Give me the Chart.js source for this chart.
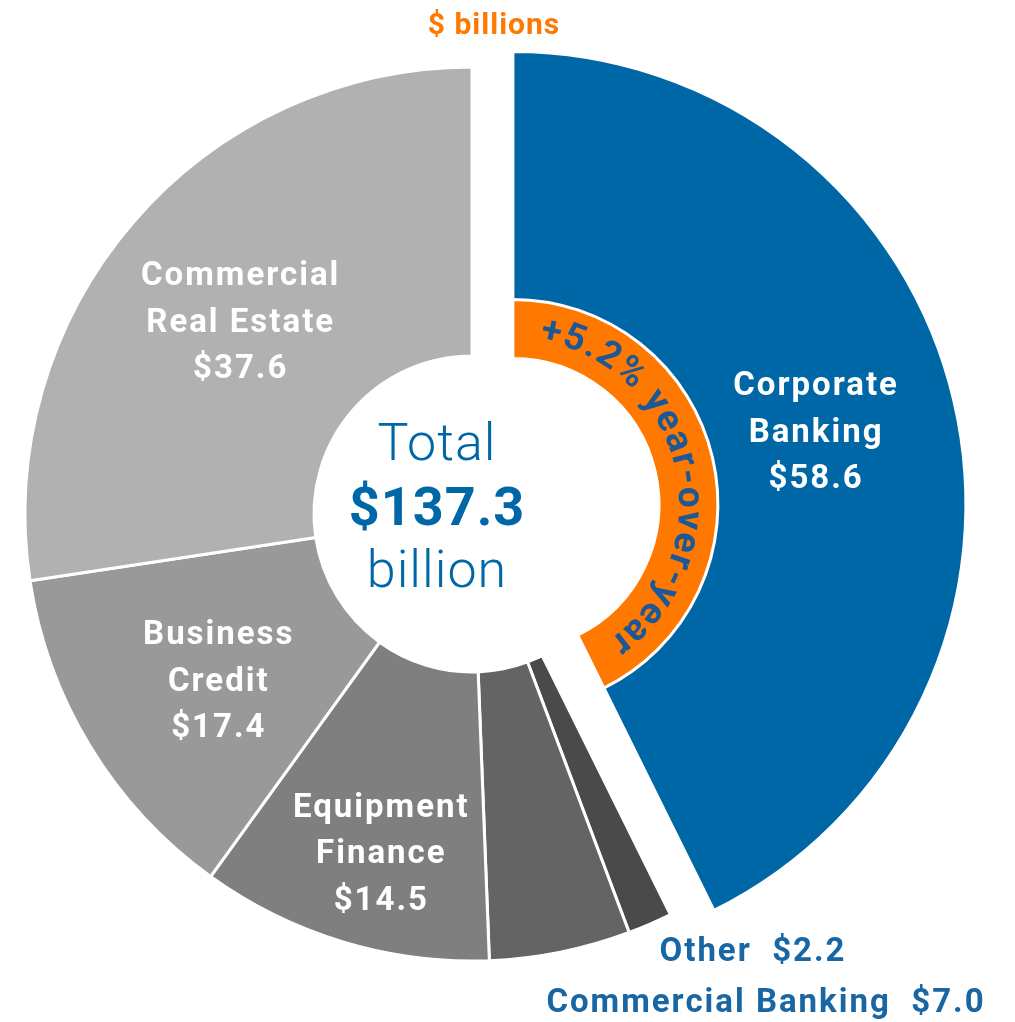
<!DOCTYPE html>
<html>
<head>
<meta charset="utf-8">
<script src="https://cdn.jsdelivr.net/npm/chart.js@4.4.1/dist/chart.umd.min.js"></script>
<style>
  html, body { margin: 0; padding: 0; background: #fff; overflow: hidden; }
  #wrap { position: relative; width: 1015px; height: 1022px; }
  #wrap canvas { position: absolute; left: 0; top: 0; }
</style>
</head>
<body>
<div id="wrap">
  <canvas id="base" width="1015" height="1022"></canvas>
  <canvas id="focus" width="1015" height="1022"></canvas>
</div>
<script>
// ---- data ----
const CATEGORIES = [
  ["Corporate", "Banking"],
  ["Other"],
  ["Commercial Banking"],
  ["Equipment", "Finance"],
  ["Business", "Credit"],
  ["Commercial", "Real Estate"],
];
const VALUES = [58.6, 2.2, 7.0, 14.5, 17.4, 37.6];
const UNIT = "$ billions";
const TOTAL_WORDS = ["Total", "billion"];
const GROWTH = "+5.2% year-over-year";
const HIGHLIGHT = 0; // slice pulled out, with the growth ring

// ---- look ----
const W = 1015, H = 1022;
const FONT = "Roboto, 'DejaVu Sans', sans-serif";
const BLUE = "#0067a6";
const ORANGE = "#ff7800";
const RING_TEXT = "#1a5898";
const LABEL_BLUE = "#1866a3";
const FILL = [BLUE, "#4a4a4a", "#646464", "#7f7f7f", "#999999", "#b1b1b1"];
const CENTER = { x: 472, y: 514 };
const R_OUT = 447, R_IN = 158;       // main ring
const R_FOCUS = 453;                 // pulled-out slice is drawn a bit larger
const RING_OUT = 205, RING_IN = 146; // orange growth ring
const EXPLODE = 42;
// where each slice label goes: fraction across the ring, or a fixed spot outside
const LABEL_STYLE = [
  { frac: 0.52 },
  { at: [753, 953] },
  { at: [766, 1004] },
  { frac: 0.66, dx: 10, dy: 7 },
  { frac: 0.5, dx: 5, dy: 11 },
  { frac: 0.5, dx: -2, dy: 7 },
];

const total = VALUES.reduce((a, b) => a + b, 0);
const fmt = (v) => "$" + v.toFixed(1);
function midAngle(i) {
  const before = VALUES.slice(0, i).reduce((a, b) => a + b, 0);
  return -Math.PI / 2 + ((before + VALUES[i] / 2) / total) * 2 * Math.PI;
}
const mHi = midAngle(HIGHLIGHT);
const CENTER_B = { x: CENTER.x + EXPLODE * Math.cos(mHi), y: CENTER.y + EXPLODE * Math.sin(mHi) };

// padding that puts the doughnut centre where we want it
function padFor(c) {
  return {
    left: Math.max(0, 2 * c.x - W), right: Math.max(0, W - 2 * c.x),
    top: Math.max(0, 2 * c.y - H), bottom: Math.max(0, H - 2 * c.y),
  };
}
// radius/cutout for ring k of n equal-weight datasets so it spans [inner, outer]
function ring(outer, inner, k, n) {
  const L = outer - inner, R = outer + L * k, I = R - n * L;
  return { radius: R, cutout: (I / R) * 100 + "%" };
}

function drawBlock(ctx, lines, x, y, lh) {
  lines.forEach((t, j) => ctx.fillText(t, x, y + (j - (lines.length - 1) / 2) * lh));
}

function labelAt(arc, st) {
  const mid = (arc.startAngle + arc.endAngle) / 2;
  const r = arc.innerRadius + st.frac * (arc.outerRadius - arc.innerRadius);
  return [arc.x + r * Math.cos(mid) + (st.dx || 0), arc.y + r * Math.sin(mid) + (st.dy || 0)];
}

const baseLabels = {
  id: "baseLabels",
  afterDatasetsDraw(chart) {
    const ctx = chart.ctx;
    const arcs = chart.getDatasetMeta(0).data;
    ctx.save();
    ctx.textAlign = "center";
    ctx.textBaseline = "middle";
    arcs.forEach((arc, i) => {
      if (i === HIGHLIGHT) return;
      const st = LABEL_STYLE[i];
      if (st.at) {
        ctx.fillStyle = LABEL_BLUE;
        ctx.letterSpacing = "2px";
        ctx.font = "bold 33px " + FONT;
        ctx.fillText(CATEGORIES[i].join(" ") + "  " + fmt(VALUES[i]), st.at[0], st.at[1]);
      } else {
        const [x, y] = labelAt(arc, st);
        ctx.fillStyle = "#fff";
        ctx.letterSpacing = "2px";
        ctx.font = "bold 33px " + FONT;
        drawBlock(ctx, [...CATEGORIES[i], fmt(VALUES[i])], x, y, 46.5);
      }
    });
    // centre total
    const cx = arcs[0].x - 35, cy = arcs[0].y;
    ctx.fillStyle = BLUE;
    ctx.letterSpacing = "1px";
    ctx.textBaseline = "alphabetic";
    ctx.font = "300 52px " + FONT;
    ctx.fillText(TOTAL_WORDS[0], cx, cy - 54);
    ctx.fillText(TOTAL_WORDS[1], cx, cy + 73);
    ctx.font = "bold 54px " + FONT;
    ctx.fillText(fmt(total), cx, cy + 11);
    // unit
    ctx.fillStyle = ORANGE;
    ctx.font = "bold 30px " + FONT;
    ctx.fillText(UNIT, 494, 34);
    ctx.restore();
  },
};

const focusLabels = {
  id: "focusLabels",
  afterDatasetsDraw(chart) {
    const ctx = chart.ctx;
    const arc = chart.getDatasetMeta(1).data[HIGHLIGHT];
    ctx.save();
    ctx.textAlign = "center";
    ctx.textBaseline = "middle";
    ctx.fillStyle = "#fff";
    ctx.letterSpacing = "2px";
    ctx.font = "bold 33px " + FONT;
    const [x, y] = labelAt(arc, LABEL_STYLE[HIGHLIGHT]);
    drawBlock(ctx, [...CATEGORIES[HIGHLIGHT], fmt(VALUES[HIGHLIGHT])], x, y, 46.5);

    // growth text bent along the orange ring
    const r = (RING_OUT + RING_IN) / 2;
    const gap = 3;
    ctx.letterSpacing = "0px";
    ctx.font = "bold 37px " + FONT;
    ctx.fillStyle = RING_TEXT;
    const widths = [...GROWTH].map((ch) => ctx.measureText(ch).width + gap);
    const span = widths.reduce((a, b) => a + b, 0) / r;
    const mid = (arc.startAngle + arc.endAngle) / 2;
    let acc = 0;
    [...GROWTH].forEach((ch, i) => {
      const a = mid - span / 2 + (acc + widths[i] / 2) / r;
      acc += widths[i];
      ctx.save();
      ctx.translate(arc.x + r * Math.cos(a), arc.y + r * Math.sin(a));
      ctx.rotate(a + Math.PI / 2);
      ctx.fillText(ch, 0, 0);
      ctx.restore();
    });
    ctx.restore();
  },
};

const common = {
  responsive: false,
  devicePixelRatio: 1,
  animation: false,
  events: [],
  plugins: { legend: { display: false }, tooltip: { enabled: false } },
};

// gray slices (the highlighted one is left empty here)
new Chart(document.getElementById("base"), {
  type: "doughnut",
  data: {
    labels: CATEGORIES,
    datasets: [{
      data: VALUES,
      backgroundColor: FILL.map((c, i) => (i === HIGHLIGHT ? "rgba(0,0,0,0)" : c)),
      borderColor: VALUES.map((v, i) => (i === HIGHLIGHT ? "rgba(0,0,0,0)" : "#fff")),
      borderWidth: 3,
      radius: R_OUT,
      cutout: (R_IN / R_OUT) * 100 + "%",
    }],
  },
  options: { ...common, layout: { padding: padFor(CENTER) } },
  plugins: [baseLabels],
});

// pulled-out slice with its orange growth ring, drawn around a shifted centre
const onlyHi = (c) => VALUES.map((v, i) => (i === HIGHLIGHT ? c : "rgba(0,0,0,0)"));
new Chart(document.getElementById("focus"), {
  type: "doughnut",
  data: {
    labels: CATEGORIES,
    datasets: [
      { data: VALUES, backgroundColor: onlyHi(ORANGE), borderColor: onlyHi("#fff"), borderWidth: 3, ...ring(RING_OUT, RING_IN, 0, 2) },
      { data: VALUES, backgroundColor: onlyHi(BLUE), borderColor: onlyHi("#fff"), borderWidth: 3, ...ring(R_FOCUS, R_IN, 1, 2) },
    ],
  },
  options: { ...common, layout: { padding: padFor(CENTER_B) } },
  plugins: [focusLabels],
});
</script>
</body>
</html>
